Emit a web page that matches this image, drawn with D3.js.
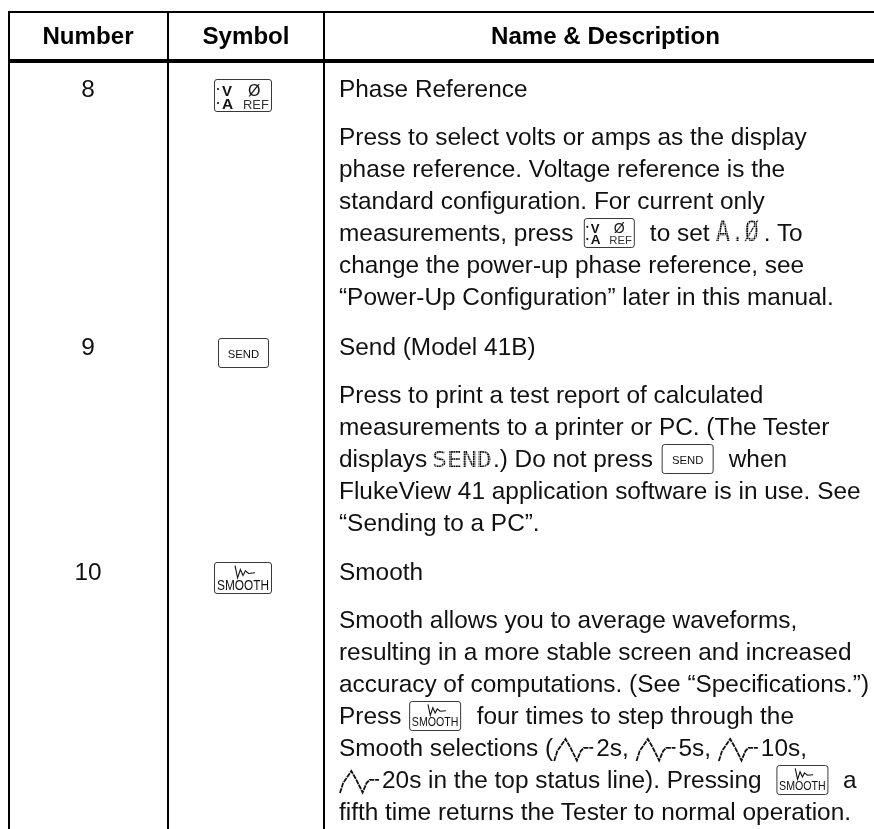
<!DOCTYPE html>
<html><head><meta charset="utf-8">
<script src="https://cdn.jsdelivr.net/npm/d3@7"></script>
<style>
html,body{margin:0;padding:0;background:#fff}
svg{display:block}
text{font-family:"Liberation Sans",Arial,sans-serif;fill:#111;white-space:pre}
</style></head><body><div id="c"></div>
<script>
const headers = ["Number","Symbol","Name & Description"];
const numbers = ["8","9","10"];
const symbols = ["phase","send","smooth"];
const names = ["Phase Reference","Send (Model 41B)","Smooth"];
// inline tokens: {k:key}, {l:lcd text}, {w:wave}, {g:extra gap}
const desc8 = [
 ["Press to select volts or amps as the display"],
 ["phase reference. Voltage reference is the"],
 ["standard configuration. For current only"],
 ["measurements, press ",{g:3.5},{k:"phase"},"  ",{g:1.5},"to set ",{g:-0.5},{l:"A.Ø"},". To"],
 ["change the power-up phase reference, see"],
 ["“Power-Up Configuration” later in this manual."]
];
const desc9 = [
 ["Press to print a test report of calculated"],
 ["measurements to a printer or PC. (The Tester"],
 ["displays ",{g:-2},{l:"SEND"},".) Do not press ",{g:2},{k:"send"},"  ",{g:1.5},"when"],
 ["FlukeView 41 application software is in use. See"],
 ["“Sending to a PC”."]
];
const desc10 = [
 ["Smooth allows you to average waveforms,"],
 ["resulting in a more stable screen and increased"],
 ["accuracy of computations. (See “Specifications.”)"],
 ["Press ",{g:1},{k:"smooth"},"  ",{g:2},"four times to step through the"],
 ["Smooth selections (",{w:1},"2s, ",{w:1},"5s, ",{w:1},"10s,"],
 [{w:1},"20s in the top status line). Pressing ",{g:8},{k:"smooth"},"  ",{g:1},"a"],
 ["fifth time returns the Tester to normal operation."]
];
const descriptions = [desc8,desc9,desc10];
const nameLines = [90,348,573];
const descLines = [138,396,621];
const waveShape = [[0,1],[0.08,0.55],[0.29,0],[0.42,0.4],[0.58,0.98],[0.68,0.55],[0.76,0.4],[1,0.4]];
const keyWave = [[0,.05],[.13,1],[.27,.35],[.4,.8],[.52,.45],[.68,.65],[1,.6]];

const W=874,H=829,FS=24.4,LH=32;
const svg=d3.select("#c").append("svg").attr("width",W).attr("height",H);
const pat=svg.append("defs").append("pattern").attr("id","lcd").attr("patternUnits","userSpaceOnUse").attr("width",2.4).attr("height",2.4);
pat.append("rect").attr("width",1.9).attr("height",1.9).attr("fill","#000");
const colX=[9,168,324];
const hTop=12,hBot=61;
// grid
colX.forEach(x=>svg.append("line").attr("x1",x).attr("x2",x).attr("y1",hTop).attr("y2",H).attr("stroke","#000").attr("stroke-width",2));
svg.append("line").attr("x1",colX[0]-1).attr("x2",W).attr("y1",hTop).attr("y2",hTop).attr("stroke","#000").attr("stroke-width",2);
svg.append("line").attr("x1",colX[0]-1).attr("x2",W).attr("y1",hBot).attr("y2",hBot).attr("stroke","#000").attr("stroke-width",4);
const content=svg.append("g").style("filter","blur(0.3px)");
// header
const hc=[88,246,605.5];
content.selectAll(".h").data(headers).join("text").attr("x",(d,i)=>hc[i]).attr("y",44)
 .attr("text-anchor","middle").attr("font-weight","bold").attr("font-size",24.1).style("fill","#000").text(d=>d);

function keycap(parent,type,x,y,w,h){
 const g=parent.append("g").attr("transform",`translate(${x},${y})`);
 g.append("rect").attr("x",.5).attr("y",.5).attr("width",w-1).attr("height",h-1).attr("rx",2.5)
  .attr("fill","#fff").attr("stroke","#222").attr("stroke-width",.9);
 const s=w/58;
 if(type==="phase"){
  g.append("circle").attr("cx",4*s).attr("cy",10*s).attr("r",1.1).attr("fill","#111");
  g.append("circle").attr("cx",4*s).attr("cy",24*s).attr("r",1.1).attr("fill","#111");
  g.append("text").attr("x",8*s).attr("y",16.5*s).attr("font-size",15*s).attr("font-weight","bold").text("V");
  g.append("text").attr("x",34*s).attr("y",16.5*s).attr("font-size",16*s).text("Ø");
  g.append("text").attr("x",8*s).attr("y",30*s).attr("font-size",15.5*s).attr("font-weight","bold").text("A");
  g.append("text").attr("x",29*s).attr("y",29.5*s).attr("font-size",12.9*s).style("fill","#333").text("REF");
 } else if(type==="send"){
  g.append("text").attr("x",w/2).attr("y",h/2+4.5).attr("text-anchor","middle").attr("font-size",11.3).text("SEND");
 } else {
  const x0=d3.scaleLinear().domain([0,1]).range([21*s,41*s]);
  g.append("path").attr("fill","none").attr("stroke","#111").attr("stroke-width",1.1)
   .attr("d",d3.line().x(d=>x0(d[0])).y(d=>3*s+d[1]*13*s)(keyWave));
  g.append("text").attr("x",w/2).attr("y",28*s).attr("text-anchor","middle").attr("font-size",14*s)
   .attr("textLength",52*s).attr("lengthAdjust","spacingAndGlyphs").text("SMOOTH");
 }
}
const capSize={phase:[58,33],send:[51,30],smooth:[58,32]};
const inlineSize={phase:[51,30],send:[52,30],smooth:[52,30]};
const bigX=[214,218,214], bigY=[79,338,562];

function drawLine(y,toks){
 let x=339;
 toks.forEach(t=>{
  if(typeof t==="string"){
   const n=content.append("text").attr("x",x).attr("y",y+7).attr("font-size",FS).text(t);
   x+=n.node().getComputedTextLength();
  } else if(t.g){
   x+=t.g;
  } else if(t.k){
   const [w,h]=inlineSize[t.k];
   keycap(content,t.k,x,y-16,w,h);
   x+=w;
  } else if(t.l){
   const send=t.l==="SEND";
   content.append("text").attr("x",x).attr("y",y+7).attr("font-size",send?22:28)
    .style("font-family","'DejaVu Sans Mono'").attr("textLength",send?60:43)
    .attr("lengthAdjust","spacingAndGlyphs")
    .style("fill","url(#lcd)").text(t.l);
   x+=send?61:48;
  } else if(t.w){
   const xs=d3.scaleLinear().domain([0,1]).range([x+1,x+40]);
   const ys=d3.scaleLinear().domain([0,1]).range([y-10,y+12]);
   content.append("path").attr("fill","none").attr("stroke","#111").attr("stroke-width",1.8)
    .attr("stroke-dasharray","5 .8").attr("d",d3.line().x(d=>xs(d[0])).y(d=>ys(d[1]))(waveShape));
   x+=43;
  }
 });
}
numbers.forEach((n,i)=>{
 content.append("text").attr("x",88).attr("y",nameLines[i]+7).attr("text-anchor","middle").attr("font-size",FS).text(n);
 const [w,h]=capSize[symbols[i]];
 keycap(content,symbols[i],bigX[i],bigY[i],w,h);
 content.append("text").attr("x",339).attr("y",nameLines[i]+7).attr("font-size",FS).text(names[i]);
 descriptions[i].forEach((l,j)=>drawLine(descLines[i]+j*LH,l));
});
</script></body></html>
